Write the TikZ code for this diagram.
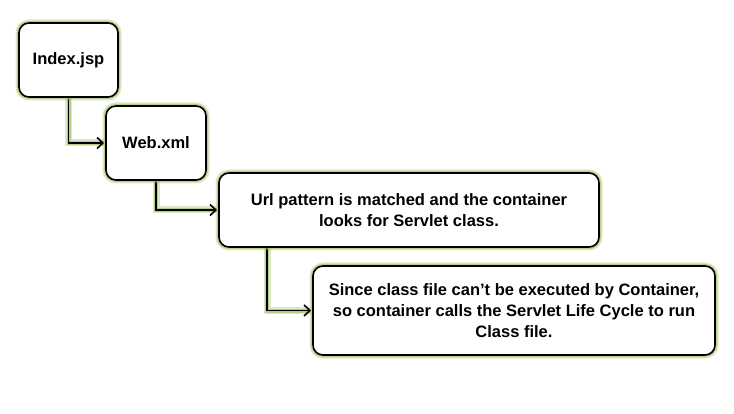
\documentclass[tikz,border=0pt]{standalone}
\usepackage{fontspec}
\setmainfont{Liberation Sans}
\usepackage{tikz}
\usetikzlibrary{arrows,arrows.meta,backgrounds,calc,positioning}
\definecolor{glowgreen}{RGB}{155,187,89}

\tikzset{
  glow/.style={preaction={draw=glowgreen,line width=7pt,opacity=0.35,-},
               preaction={draw=glowgreen,line width=4pt,opacity=0.6,-}},
  stepbox/.style={draw=black,line width=1.6pt,rounded corners=10pt,fill=white,glow,
                  align=center,inner sep=0pt,
                  font=\fontsize{16.5}{21}\selectfont\bfseries},
  flow/.style={draw=black,line width=1.6pt,glow,
               -{Straight Barb[length=6pt,width=11pt]},shorten >=1pt}
}

\begin{document}
\begin{tikzpicture}[x=1pt,y=-1pt]
\useasboundingbox (0,0) rectangle (734,414);

\node[stepbox,minimum width=99pt,minimum height=74pt] (index) at (68.5,60) {Index.jsp};
\node[stepbox,minimum width=100pt,minimum height=74pt] (web) at (156,143) {Web.xml};
\node[stepbox,minimum width=380pt,minimum height=74pt] (url) at (409,210)
  {Url pattern is matched and the container\\looks for Servlet class.};
\node[stepbox,minimum width=402pt,minimum height=89pt] (since) at (514,310.5)
  {Since class file can’t be executed by Container,\\so container calls the Servlet Life Cycle to run\\Class file.};

\begin{scope}[on background layer]
\draw[flow] (index.south) |- (web.west);
\draw[flow] (web.south) |- (url.west);
\draw[flow] ([xshift=49pt]url.south west) |- (since.west);
\end{scope}
\end{tikzpicture}
\end{document}
